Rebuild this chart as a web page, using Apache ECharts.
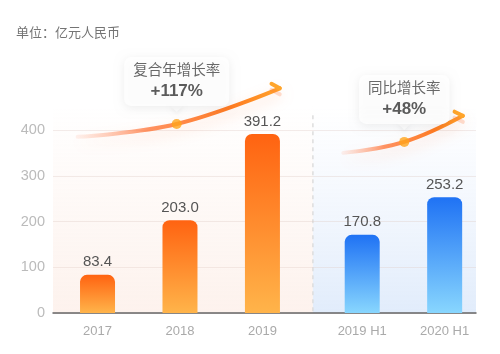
<!DOCTYPE html>
<html>
<head>
<meta charset="utf-8">
<script src="https://cdn.jsdelivr.net/npm/echarts@6/dist/echarts.min.js"></script>
<style>
  html, body { margin: 0; padding: 0; background: #fff; }
  #chart { width: 500px; height: 354px; }
</style>
</head>
<body>
<div id="chart"></div>
<script>
// data
const categories = ['2017', '2018', '2019', '2019 H1', '2020 H1'];
const slots = [0, 1, 2, 3.21, 4.21];          // x position of each bar (gap before the H1 pair)
const values = [83.4, 203.0, 391.2, 170.8, 253.2];
const isHalfYear = [false, false, false, true, true];
const yTicks = [0, 100, 200, 300, 400];

// growth arcs (decoration), data coords
const arcLeft = [[-0.24, 385], [0.96, 413], [2.21, 491]];
const hookLeft = [[2.21, 491], [2.11, 501]];
const arcRight = [[2.98, 350], [3.72, 374], [4.43, 431]];
const hookRight = [[4.43, 431], [4.33, 440]];
const growthAt = [[0.96, 413], [3.72, 374]];
const growthTitles = ['复合年增长率', '同比增长率'];
const growthValues = ['+117%', '+48%'];

const xMin = -0.54, xMax = 4.59, divider = 2.612, bgTop = 455;

const font = "'Liberation Sans', 'Noto Sans CJK SC', sans-serif";

const chart = echarts.init(document.getElementById('chart'));

function barColor(blue) {
  return blue
    ? new echarts.graphic.LinearGradient(0, 0, 0, 1, [
        { offset: 0, color: '#1f72f4' }, { offset: 1, color: '#88d6fe' }])
    : new echarts.graphic.LinearGradient(0, 0, 0, 1, [
        { offset: 0, color: '#ff6311' }, { offset: 1, color: '#ffb44a' }]);
}

const arcColor = new echarts.graphic.LinearGradient(0, 0, 1, 0, [
  { offset: 0, color: 'rgba(255,160,130,0.12)' },
  { offset: 0.35, color: 'rgba(255,120,60,0.8)' },
  { offset: 0.75, color: '#ff7b22' },
  { offset: 1, color: '#ffa52b' }
]);

function arcSeries(pts, smooth) {
  return {
    type: 'line', data: pts, smooth: smooth, symbol: 'none', clip: false, z: 4,
    silent: true,
    lineStyle: {
      width: 4, cap: 'round', color: smooth ? arcColor : '#ffa52b',
      shadowBlur: smooth ? 14 : 0, shadowColor: 'rgba(255,120,60,0.25)', shadowOffsetY: 6
    }
  };
}

const option = {
  animation: false,
  textStyle: { fontFamily: font },
  title: {
    text: '单位：亿元人民币', left: 11, top: 22,
    textStyle: { fontSize: 13, color: '#747474', fontWeight: 'normal', fontFamily: font }
  },
  grid: { left: 53, right: 24, top: 130, bottom: 41 },
  xAxis: {
    type: 'value', min: xMin, max: xMax,
    axisLine: { show: true, onZero: false, lineStyle: { color: '#666', width: 1.5 } },
    axisTick: { show: false },
    splitLine: { show: false },
    axisLabel: {
      customValues: slots, margin: 12, color: '#aaa', fontSize: 13,
      formatter: v => categories[slots.indexOf(v)] || ''
    }
  },
  yAxis: {
    type: 'value', min: yTicks[0], max: yTicks[yTicks.length - 1], interval: 100,
    axisLine: { show: false }, axisTick: { show: false },
    axisLabel: { color: '#bbb', fontSize: 14.5, margin: 8 },
    splitLine: { lineStyle: { color: 'rgba(220,200,195,0.35)' } }
  },
  series: [
    {
      type: 'bar', barWidth: 35, z: 3,
      data: values.map((v, i) => ({
        value: [slots[i], v],
        itemStyle: { color: barColor(isHalfYear[i]), borderRadius: [7, 7, 0, 0] }
      })),
      label: {
        show: true, position: 'top', distance: 5, fontSize: 15, color: '#555',
        formatter: p => p.value[1].toFixed(1)
      }
    },
    arcSeries(arcLeft, 0.4),
    arcSeries(hookLeft, false),
    arcSeries(arcRight, 0.4),
    arcSeries(hookRight, false),
    {
      // callout boxes with pointer
      type: 'scatter', clip: false, z: 5, silent: true,
      symbol: 'path://M0,0L14,0L7,7Z', symbolSize: [14, 7], symbolOffset: [0, -15.5],
      itemStyle: { color: '#fff', shadowBlur: 4, shadowColor: 'rgba(0,0,0,0.07)', shadowOffsetY: 2 },
      data: growthAt.map((p, i) => ({
        value: p,
        label: {
          show: true, position: 'top', distance: -1,
          formatter: '{t|' + growthTitles[i] + '}\n{v|' + growthValues[i] + '}',
          backgroundColor: '#fff', borderRadius: 7, padding: [4, 9, 4, 9],
          shadowBlur: 10, shadowColor: 'rgba(0,0,0,0.09)', shadowOffsetY: 2,
          rich: {
            t: { fontSize: 14.5, color: '#444', lineHeight: 20, align: 'center', fontFamily: font },
            v: { fontSize: 17, color: '#333', fontWeight: 'bold', lineHeight: 21, align: 'center', fontFamily: font }
          }
        }
      }))
    },
    {
      type: 'scatter', clip: false, z: 6, silent: true,
      symbolSize: 10, itemStyle: { color: '#ffa51c' },
      data: growthAt
    }
  ]
};

chart.setOption(option);

// background panels and the dashed divider placed through the axes
const pLeftBottom = chart.convertToPixel({ gridIndex: 0 }, [xMin, 0]);
const pDivTop = chart.convertToPixel({ gridIndex: 0 }, [divider, bgTop]);
const pRight = chart.convertToPixel({ gridIndex: 0 }, [xMax, 0]);
const dashTop = chart.convertToPixel({ gridIndex: 0 }, [divider, 432]);

function panel(x0, x1, colorBottom, colorTop) {
  return {
    type: 'rect', z: -10, silent: true,
    shape: { x: x0, y: pDivTop[1], width: x1 - x0, height: pLeftBottom[1] - pDivTop[1] },
    style: {
      fill: new echarts.graphic.LinearGradient(0, 0, 0, 1, [
        { offset: 0, color: colorTop }, { offset: 1, color: colorBottom }])
    }
  };
}

chart.setOption({
  graphic: [
    panel(pLeftBottom[0], pDivTop[0], '#fdf2ed', 'rgba(253,242,237,0)'),
    panel(pDivTop[0], pRight[0], '#e1ecfb', 'rgba(235,242,253,0)'),
    {
      type: 'line', z: -5, silent: true,
      shape: { x1: pDivTop[0], y1: dashTop[1], x2: pDivTop[0], y2: pLeftBottom[1] },
      style: { stroke: '#dedede', lineWidth: 1.5, lineDash: [4, 4] }
    }
  ]
});
</script>
</body>
</html>
